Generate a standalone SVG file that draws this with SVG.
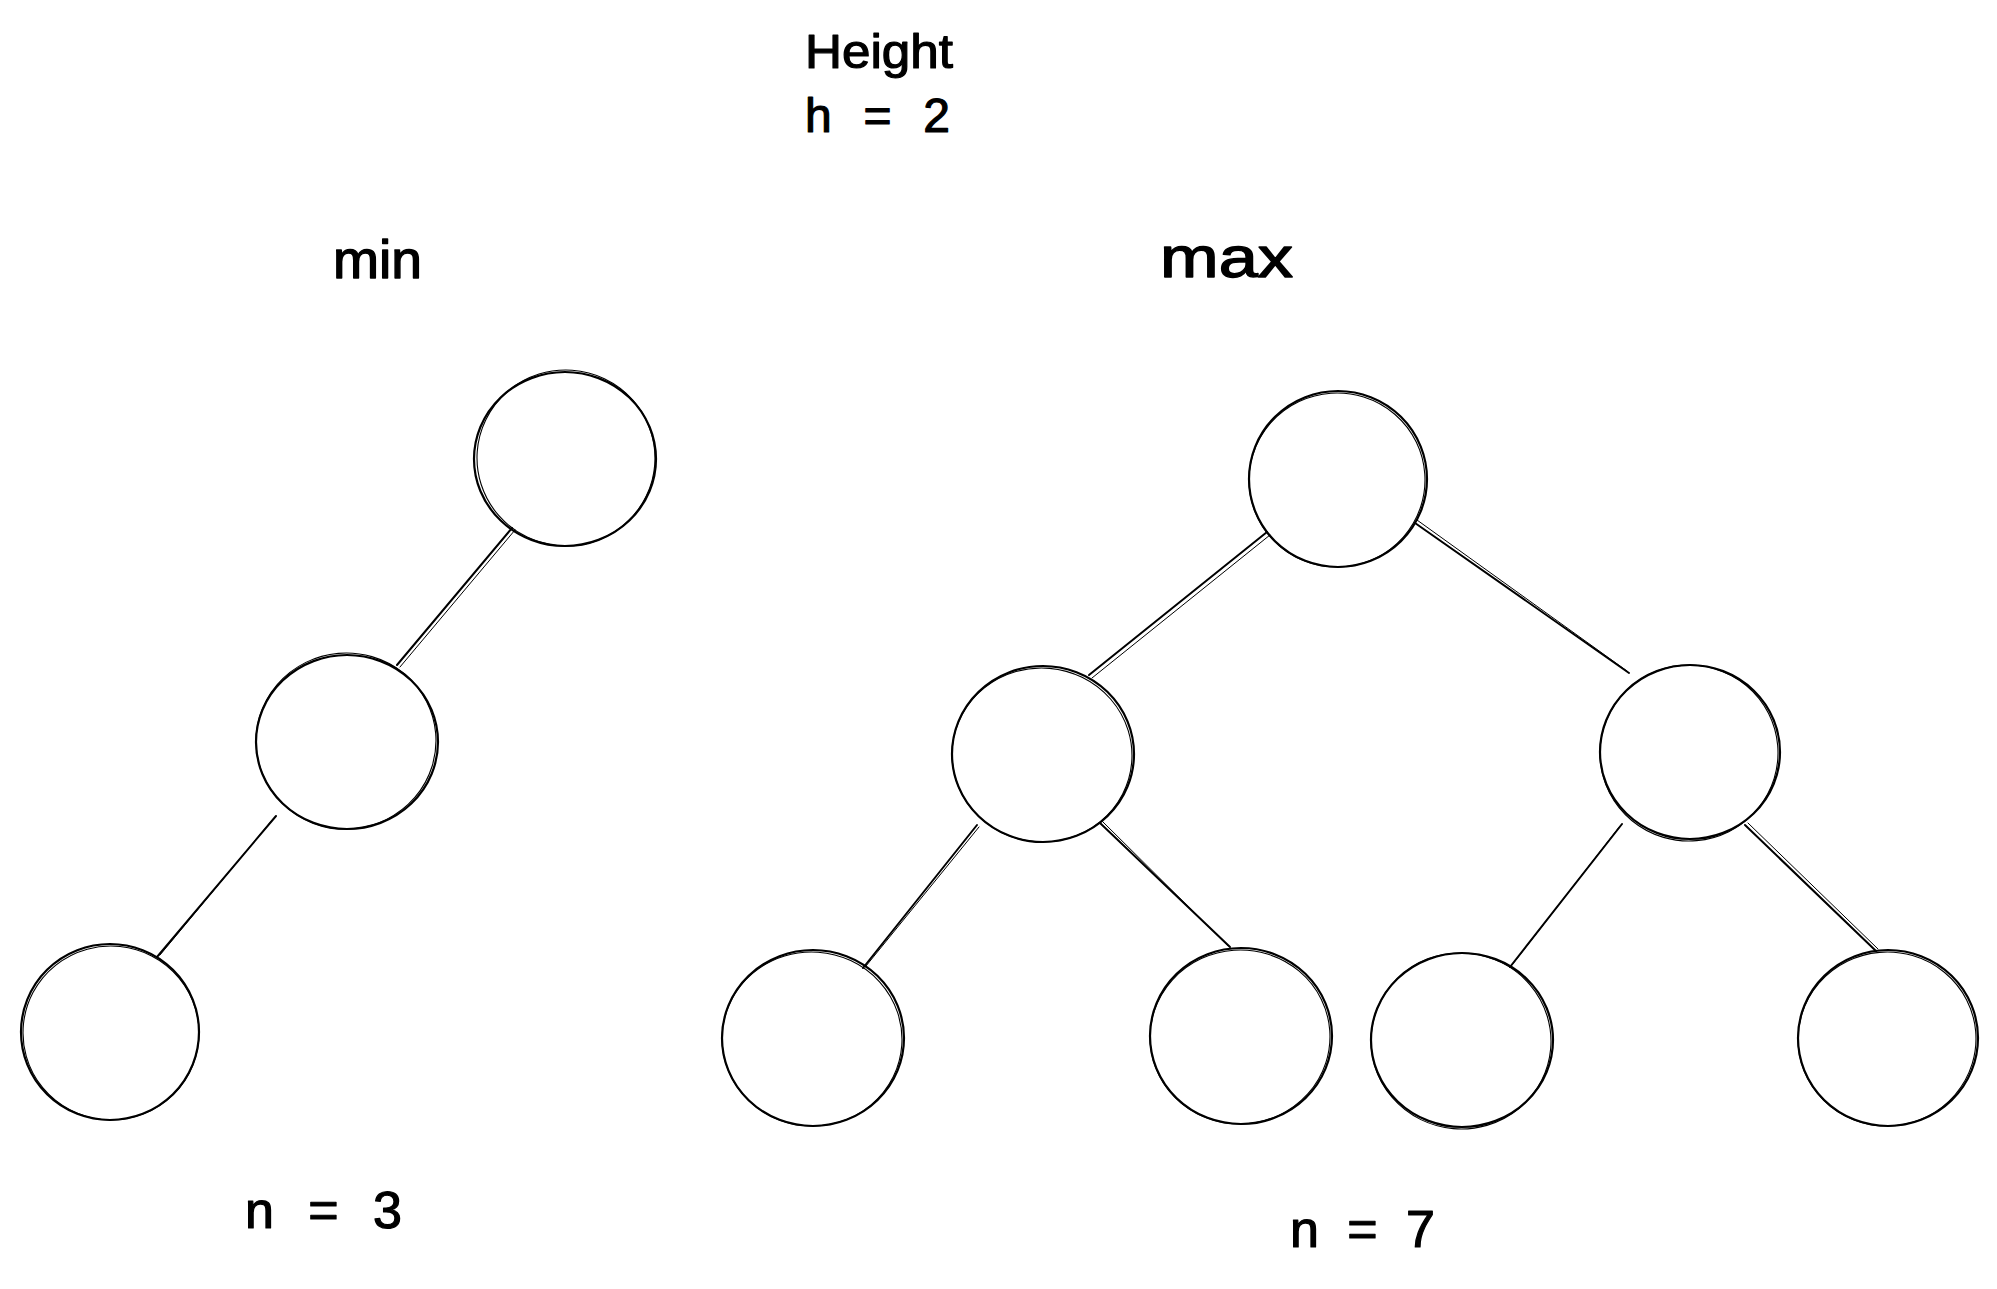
<svg xmlns="http://www.w3.org/2000/svg" width="1997" height="1289" viewBox="0 0 1997 1289">
  <style>
    .bg { fill: #ffffff; }
    .node .a { fill: none; stroke: #000; stroke-width: 2.2; }
    .node .b { fill: none; stroke: #000; stroke-width: 1.1; }
    .edges line { stroke: #000; stroke-linecap: round; }
    .edges .a { stroke-width: 2; }
    .edges .b { stroke-width: 1; }
    .label { font-family: "Liberation Sans", Arial, sans-serif; fill: #000; stroke: #000; stroke-linejoin: round; }
    .title { font-size: 48px; stroke-width: 1.2; }
    .head { font-size: 54px; stroke-width: 1.4; }
    .wide { font-size: 58px; }
    .count { font-size: 52px; stroke-width: 1.2; }
  </style>

  <rect class="bg" x="0" y="0" width="1997" height="1289"/>

  <!-- title -->
  <g id="title">
    <text class="label title" x="805" y="68" textLength="148" lengthAdjust="spacingAndGlyphs">Height</text>
    <text class="label title" x="805" y="132" textLength="145" lengthAdjust="spacing">h = 2</text>
  </g>

  <!-- column headings -->
  <text id="label-min" class="label head" x="333" y="278" textLength="89" lengthAdjust="spacingAndGlyphs">min</text>
  <text id="label-max" class="label head wide" x="1160" y="277" textLength="133" lengthAdjust="spacingAndGlyphs">max</text>

  <!-- connectors: each stroke drawn twice, slightly offset, for a sketched look -->
  <g id="connectors" class="edges">
    <line class="a" x1="512" y1="528" x2="397" y2="665"/>
    <line class="b" x1="515" y1="530" x2="400" y2="667"/>

    <line class="a" x1="276" y1="816" x2="157" y2="957"/>
    <line class="b" x1="273" y1="819" x2="160" y2="955"/>

    <line class="a" x1="1267" y1="532" x2="1089" y2="675"/>
    <line class="b" x1="1270" y1="535" x2="1092" y2="678"/>

    <line class="a" x1="1415" y1="523" x2="1629" y2="673"/>
    <line class="b" x1="1417" y1="520" x2="1627" y2="671"/>

    <line class="a" x1="977" y1="825" x2="863" y2="968"/>
    <line class="b" x1="979" y1="827" x2="866" y2="966"/>

    <line class="a" x1="1100" y1="823" x2="1230" y2="947"/>
    <line class="b" x1="1102" y1="821" x2="1228" y2="946"/>

    <line class="a" x1="1622" y1="824" x2="1510" y2="967"/>
    <line class="b" x1="1620" y1="826" x2="1512" y2="965"/>

    <line class="a" x1="1745" y1="825" x2="1876" y2="951"/>
    <line class="b" x1="1748" y1="823" x2="1878" y2="949"/>
  </g>

  <!-- min tree (degenerate chain) -->
  <g id="min-root" class="node">
    <ellipse class="a" cx="565" cy="459" rx="91" ry="87"/>
    <ellipse class="b" cx="566" cy="458" rx="89" ry="88" transform="rotate(4 566 458)"/>
  </g>
  <g id="min-mid" class="node">
    <ellipse class="a" cx="347" cy="742" rx="91" ry="87"/>
    <ellipse class="b" cx="346" cy="741" rx="90" ry="88" transform="rotate(-5 346 741)"/>
  </g>
  <g id="min-leaf" class="node">
    <ellipse class="a" cx="110" cy="1032" rx="89" ry="88"/>
    <ellipse class="b" cx="111" cy="1033" rx="88" ry="87" transform="rotate(6 111 1033)"/>
  </g>

  <!-- max tree (perfect binary tree) -->
  <g id="max-root" class="node">
    <ellipse class="a" cx="1338" cy="479" rx="89" ry="88"/>
    <ellipse class="b" cx="1337" cy="480" rx="88" ry="87" transform="rotate(-4 1337 480)"/>
  </g>
  <g id="max-left" class="node">
    <ellipse class="a" cx="1043" cy="754" rx="91" ry="88"/>
    <ellipse class="b" cx="1042" cy="755" rx="90" ry="87" transform="rotate(5 1042 755)"/>
  </g>
  <g id="max-right" class="node">
    <ellipse class="a" cx="1690" cy="752" rx="90" ry="87"/>
    <ellipse class="b" cx="1689" cy="753" rx="89" ry="88" transform="rotate(-5 1689 753)"/>
  </g>
  <g id="max-left-left" class="node">
    <ellipse class="a" cx="813" cy="1038" rx="91" ry="88"/>
    <ellipse class="b" cx="812" cy="1039" rx="90" ry="87" transform="rotate(4 812 1039)"/>
  </g>
  <g id="max-left-right" class="node">
    <ellipse class="a" cx="1241" cy="1036" rx="91" ry="88"/>
    <ellipse class="b" cx="1240" cy="1037" rx="90" ry="87" transform="rotate(-4 1240 1037)"/>
  </g>
  <g id="max-right-left" class="node">
    <ellipse class="a" cx="1462" cy="1040" rx="91" ry="87"/>
    <ellipse class="b" cx="1461" cy="1041" rx="90" ry="88" transform="rotate(5 1461 1041)"/>
  </g>
  <g id="max-right-right" class="node">
    <ellipse class="a" cx="1888" cy="1038" rx="90" ry="88"/>
    <ellipse class="b" cx="1887" cy="1039" rx="89" ry="87" transform="rotate(-5 1887 1039)"/>
  </g>

  <!-- node counts -->
  <text id="count-min" class="label count" x="245" y="1228" textLength="157" lengthAdjust="spacing">n = 3</text>
  <text id="count-max" class="label count" x="1290" y="1247" textLength="145" lengthAdjust="spacing">n = 7</text>
</svg>
